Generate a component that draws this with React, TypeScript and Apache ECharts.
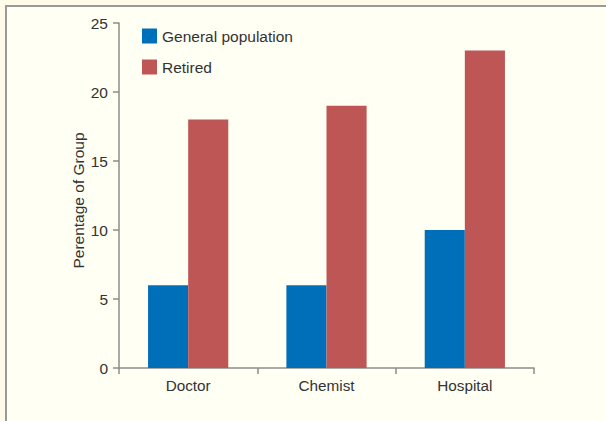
import React, { useEffect, useRef } from "react";
import * as echarts from "echarts";

const categories = ["Doctor", "Chemist", "Hospital"];
const generalPopulation = [6, 6, 10];
const retired = [18, 19, 23];
const yTicks = [0, 5, 10, 15, 20, 25];

export default function App() {
  const ref = useRef<HTMLDivElement>(null);
  useEffect(() => {
    if (!ref.current) return;
    const chart = echarts.init(ref.current, undefined, { renderer: "svg" });
    const font = "Liberation Sans, Arial, sans-serif";
    chart.setOption({
      animation: false,
      backgroundColor: "#fffbe8",
      textStyle: { fontFamily: font },
      graphic: [
        {
          type: "rect",
          shape: { x: 6, y: 6, width: 640, height: 440 },
          style: { fill: "#fffff4", stroke: "#9a9a9a", lineWidth: 2 },
          z: -10,
          silent: true,
        },
      ],
      legend: {
        left: 142,
        top: 28,
        padding: 0,
        orient: "vertical",
        icon: "rect",
        itemWidth: 15,
        itemHeight: 15,
        itemGap: 15,
        textStyle: { fontSize: 15.5, color: "#333", fontFamily: font },
        data: ["General population", "Retired"],
      },
      grid: { left: 119, right: 72, top: 23, bottom: 53 },
      xAxis: {
        type: "category",
        data: categories,
        axisLine: { lineStyle: { color: "#8c8c8c", width: 1.5 } },
        axisTick: { show: true, length: 6, lineStyle: { color: "#8c8c8c", width: 1.5 } },
        axisLabel: { fontSize: 15.3, color: "#333", margin: 10, fontFamily: font },
      },
      yAxis: {
        type: "value",
        min: yTicks[0],
        max: yTicks[yTicks.length - 1],
        interval: 5,
        name: "Perentage of Group",
        nameLocation: "middle",
        nameGap: 33,
        nameMoveOverlap: false,
        nameTextStyle: {
          fontSize: 15.5,
          color: "#333",
          fontFamily: font,
          padding: [0, 10, 0, 0],
        },
        axisLine: { show: true, lineStyle: { color: "#8c8c8c", width: 1.5 } },
        axisTick: { show: true, length: 6, lineStyle: { color: "#8c8c8c", width: 1.5 } },
        axisLabel: { fontSize: 15.5, color: "#333", margin: 11, fontFamily: font },
        splitLine: { show: false },
      },
      series: [
        {
          name: "General population",
          type: "bar",
          data: generalPopulation,
          itemStyle: { color: "#006fba" },
          barGap: "0%",
          barCategoryGap: "42%",
        },
        {
          name: "Retired",
          type: "bar",
          data: retired,
          itemStyle: { color: "#bf5656" },
          barGap: "0%",
          barCategoryGap: "42%",
        },
      ],
    });
    return () => chart.dispose();
  }, []);
  return (
    <div
      ref={ref}
      style={{ position: "fixed", left: 0, top: 0, width: 606, height: 421 }}
    />
  );
}
